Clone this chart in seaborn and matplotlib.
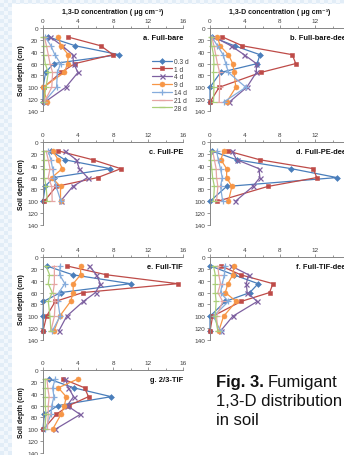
import numpy as np
import pandas as pd
import matplotlib
matplotlib.use("Agg")
import matplotlib.pyplot as plt
import seaborn as sns
from matplotlib.ticker import MultipleLocator
from matplotlib.lines import Line2D

sns.set_style("white")
plt.rcParams["font.family"] = ["Liberation Sans", "DejaVu Sans"]

# ---------------- data ----------------
days = ["0.3 d", "1 d", "4 d", "9 d", "14 d", "21 d", "28 d"]
depth_long = [15, 30, 45, 60, 75, 100, 125]
depth_short = [15, 30, 45, 60, 75, 100]
x_ticks = [0, 4, 8, 12, 16]
y_ticks = [0, 20, 40, 60, 80, 100, 120, 140]

# each list: concentrations for days in order, by depth
full_bare = [
    [0.6, 3.7, 8.7, 1.2, 0.3, 0.0, 0.0],
    [2.8, 6.6, 8.0, 3.65, 2.05, 0.1, 0.1],
    [0.8, 2.2, 3.4, 3.5, 4.0, 2.6, 0.2],
    [1.75, 2.05, 2.9, 2.8, 2.45, 0.0, 0.5],
    [0.25, 0.9, 1.35, 2.0, 1.65, 1.55, 0.1],
    [0.15, 0.4, 0.6, 0.8, 1.1, 1.0, 0.15],
    [0.05, 0.1, 0.1, 0.25, 0.6, 0.35, 0.05],
]
full_bare_deep = [
    [0.2, 2.8, 5.7, 5.4, 1.2, 0.0, 0.0],
    [1.4, 3.7, 9.4, 9.8, 5.8, 1.05, 0.0],
    [0.45, 2.4, 3.9, 5.3, 5.3, 4.2, 2.2],
    [0.85, 1.15, 2.1, 2.6, 2.75, 2.95, 1.9],
    [0.2, 0.85, 1.5, 1.8, 2.1, 4.1, 1.55],
    [0.2, 0.45, 0.65, 0.85, 1.1, 1.1, 1.05],
    [0.1, 0.2, 0.4, 0.45, 0.4, 0.45, 0.4],
]
full_pe = [
    [0.9, 2.5, 7.7, 1.2, 0.25, 0.0],
    [1.75, 5.7, 8.9, 6.25, 1.5, 0.15],
    [2.5, 3.8, 4.15, 5.1, 3.4, 2.0],
    [1.1, 1.75, 2.2, 1.0, 2.0, 2.0],
    [0.6, 0.9, 1.1, 1.25, 1.5, 2.05],
    [0.35, 0.6, 0.8, 0.6, 1.0, 1.05],
    [0.15, 0.15, 0.15, 0.15, 0.35, 0.5],
]
full_pe_deep = [
    [0.2, 3.05, 9.3, 14.5, 1.9, 0.0],
    [2.0, 5.7, 11.8, 12.2, 6.6, 0.85],
    [2.5, 3.05, 5.6, 5.7, 4.9, 2.9],
    [1.55, 1.25, 1.9, 1.9, 2.5, 2.1],
    [0.75, 0.95, 1.2, 1.4, 1.2, 1.45],
    [0.3, 0.5, 0.7, 0.75, 0.9, 0.75],
    [0.2, 0.1, 0.2, 0.3, 0.5, 0.4],
]
full_tif = [
    [0.4, 3.4, 10.0, 2.0, 0.05, 0.0, 0.0],
    [2.7, 7.25, 15.4, 4.55, 1.4, 0.4, 0.0],
    [5.3, 6.1, 6.55, 6.0, 4.6, 2.7, 1.8],
    [4.3, 4.3, 3.45, 3.45, 3.15, 1.9, 1.25],
    [1.95, 1.9, 2.5, 1.8, 1.7, 1.95, 1.05],
    [1.3, 1.3, 1.3, 1.15, 1.4, 1.3, 0.9],
    [0.35, 0.75, 0.6, 1.05, 0.6, 0.8, 0.9],
]
full_tif_deep = [
    [0.05, 2.7, 5.5, 4.55, 1.75, 0.0, 0.0],
    [1.25, 3.5, 7.2, 6.8, 3.55, 0.3, 0.0],
    [2.4, 4.4, 4.15, 4.25, 5.4, 2.6, 1.2],
    [2.75, 2.6, 2.05, 1.75, 3.0, 1.55, 1.0],
    [1.7, 1.65, 1.4, 1.2, 2.1, 0.4, 1.2],
    [0.9, 1.0, 1.2, 0.9, 1.45, 0.75, 0.9],
    [0.4, 0.6, 0.6, 0.6, 0.7, 0.6, 0.9],
]
tif_23 = [
    [0.65, 3.5, 7.8, 1.7, 0.15, 0.0],
    [2.25, 4.75, 5.2, 2.95, 1.5, 0.05],
    [2.55, 2.9, 3.5, 2.75, 4.25, 1.4],
    [4.0, 1.75, 2.65, 2.45, 2.05, 1.1],
    [1.4, 1.1, 1.25, 1.0, 0.9, 0.25],
    [0.45, 0.55, 0.7, 0.6, 0.6, 0.5],
    [0.25, 0.25, 0.25, 0.25, 0.35, 0.2],
]

panels = [
    ("a. Full-bare", full_bare, depth_long),
    ("b. Full-bare-deep", full_bare_deep, depth_long),
    ("c. Full-PE", full_pe, depth_short),
    ("d. Full-PE-deep", full_pe_deep, depth_short),
    ("e. Full-TIF", full_tif, depth_long),
    ("f. Full-TIF-deep", full_tif_deep, depth_long),
    ("g. 2/3-TIF", tif_23, depth_short),
]

# ---------------- style ----------------
colors = ["#4A7EBB", "#BE4B48", "#7D60A0", "#F79646", "#85ACDC", "#E6A5A4", "#A9CF78"]
markers = ["D", "s", "x", "o", "+", "_", "_"]
msizes = [3.0, 3.4, 3.6, 3.6, 4.2, 4.0, 4.0]

W, H = 344, 456
fig = plt.figure(figsize=(W / 100, H / 100), dpi=100)

# checkered light-blue page background with white content area
yy, xx = np.mgrid[0:H, 0:W]
chk = ((xx // 4 + yy // 4) % 2).astype(float)
bg = np.zeros((H, W, 3))
c1 = np.array([0.89, 0.93, 0.97])
c2 = np.array([0.95, 0.97, 0.99])
bg[:] = c1 * chk[..., None] + c2 * (1 - chk[..., None])
bg[5:, 12:] = 1.0
fig.figimage(bg, xo=0, yo=0, origin="upper", zorder=-5)

col_left = {0: 43, 1: 210}
row_top = [29, 143, 258, 371]
ax_w, ax_h = 140, 83

axis_col = "#868686"
txt_col = "#404040"

for i, (label, series, depths) in enumerate(panels):
    r, c = divmod(i, 2)
    l = col_left[c] / W
    b = 1 - (row_top[r] + ax_h) / H
    ax = fig.add_axes([l, b, ax_w / W, ax_h / H])
    ax.set_facecolor("none")
    for k, day in enumerate(days):
        df = pd.DataFrame({"conc": series[k], "depth": depths})
        sns.lineplot(data=df, x="conc", y="depth", sort=False, estimator=None,
                     color=colors[k], marker=markers[k], markersize=msizes[k],
                     markeredgewidth=0.9 if markers[k] in ("x", "+", "_") else 0.4,
                     markeredgecolor=colors[k], linewidth=0.9, ax=ax, label=day,
                     legend=False, clip_on=False)
    ax.set_xlim(0, 16)
    ax.set_ylim(140, 0)
    ax.set_xticks(x_ticks)
    ax.set_yticks(y_ticks)
    ax.xaxis.set_minor_locator(MultipleLocator(2))
    ax.xaxis.tick_top()
    ax.tick_params(axis="x", which="both", top=True, bottom=False, direction="out",
                   length=2, width=0.6, color=axis_col, labelsize=4.6,
                   labelcolor=txt_col, pad=1.5)
    ax.tick_params(axis="x", which="minor", length=1.5)
    ax.tick_params(axis="y", left=True, direction="out", length=2, width=0.6,
                   color=axis_col, labelsize=4.6, labelcolor=txt_col, pad=1.5)
    for s in ["right", "bottom"]:
        ax.spines[s].set_visible(False)
    for s in ["top", "left"]:
        ax.spines[s].set_color(axis_col)
        ax.spines[s].set_linewidth(0.7)
    ax.set_xlabel("")
    ax.set_ylabel("")
    ax.text(1.0, 0.89, label, transform=ax.transAxes, ha="right", va="center",
            fontsize=5.4, fontweight="bold", color="#111111")
    if c == 0:
        ax.set_ylabel("Soil depth (cm)", fontsize=5.0, fontweight="bold",
                      color="#111111", labelpad=1.5)
    if r == 0:
        ax.set_xlabel("1,3-D concentration ( \u03bcg cm\u207b\u00b3)", fontsize=5.0,
                      fontweight="bold", color="#111111", labelpad=4)
        ax.xaxis.set_label_position("top")
    if i == 0:
        handles = [Line2D([], [], color=colors[k], marker=markers[k],
                          markersize=msizes[k], linewidth=0.9,
                          markeredgewidth=0.9 if markers[k] in ("x", "+", "_") else 0.4)
                   for k in range(len(days))]
        ax.legend(handles, days, loc="upper left", bbox_to_anchor=(0.775, 0.64),
                  frameon=False, fontsize=4.8, handlelength=3.0,
                  handletextpad=0.3, labelspacing=0.12, borderaxespad=0,
                  borderpad=0, labelcolor=txt_col)

cap_fs = 12
t1 = fig.text(216 / W, 1 - 387 / H, "Fig. 3.", fontsize=cap_fs, fontweight="bold",
              ha="left", va="baseline", color="#111111")
fig.canvas.draw()
ext = t1.get_window_extent()
fig.text((ext.x1 + 4) / W, 1 - 387 / H, "Fumigant", fontsize=cap_fs,
         ha="left", va="baseline", color="#111111")
fig.text(216 / W, 1 - 406 / H, "1,3-D distribution", fontsize=cap_fs,
         ha="left", va="baseline", color="#111111")
fig.text(216 / W, 1 - 425 / H, "in soil", fontsize=cap_fs,
         ha="left", va="baseline", color="#111111")

fig.savefig("out.png", dpi=100)
